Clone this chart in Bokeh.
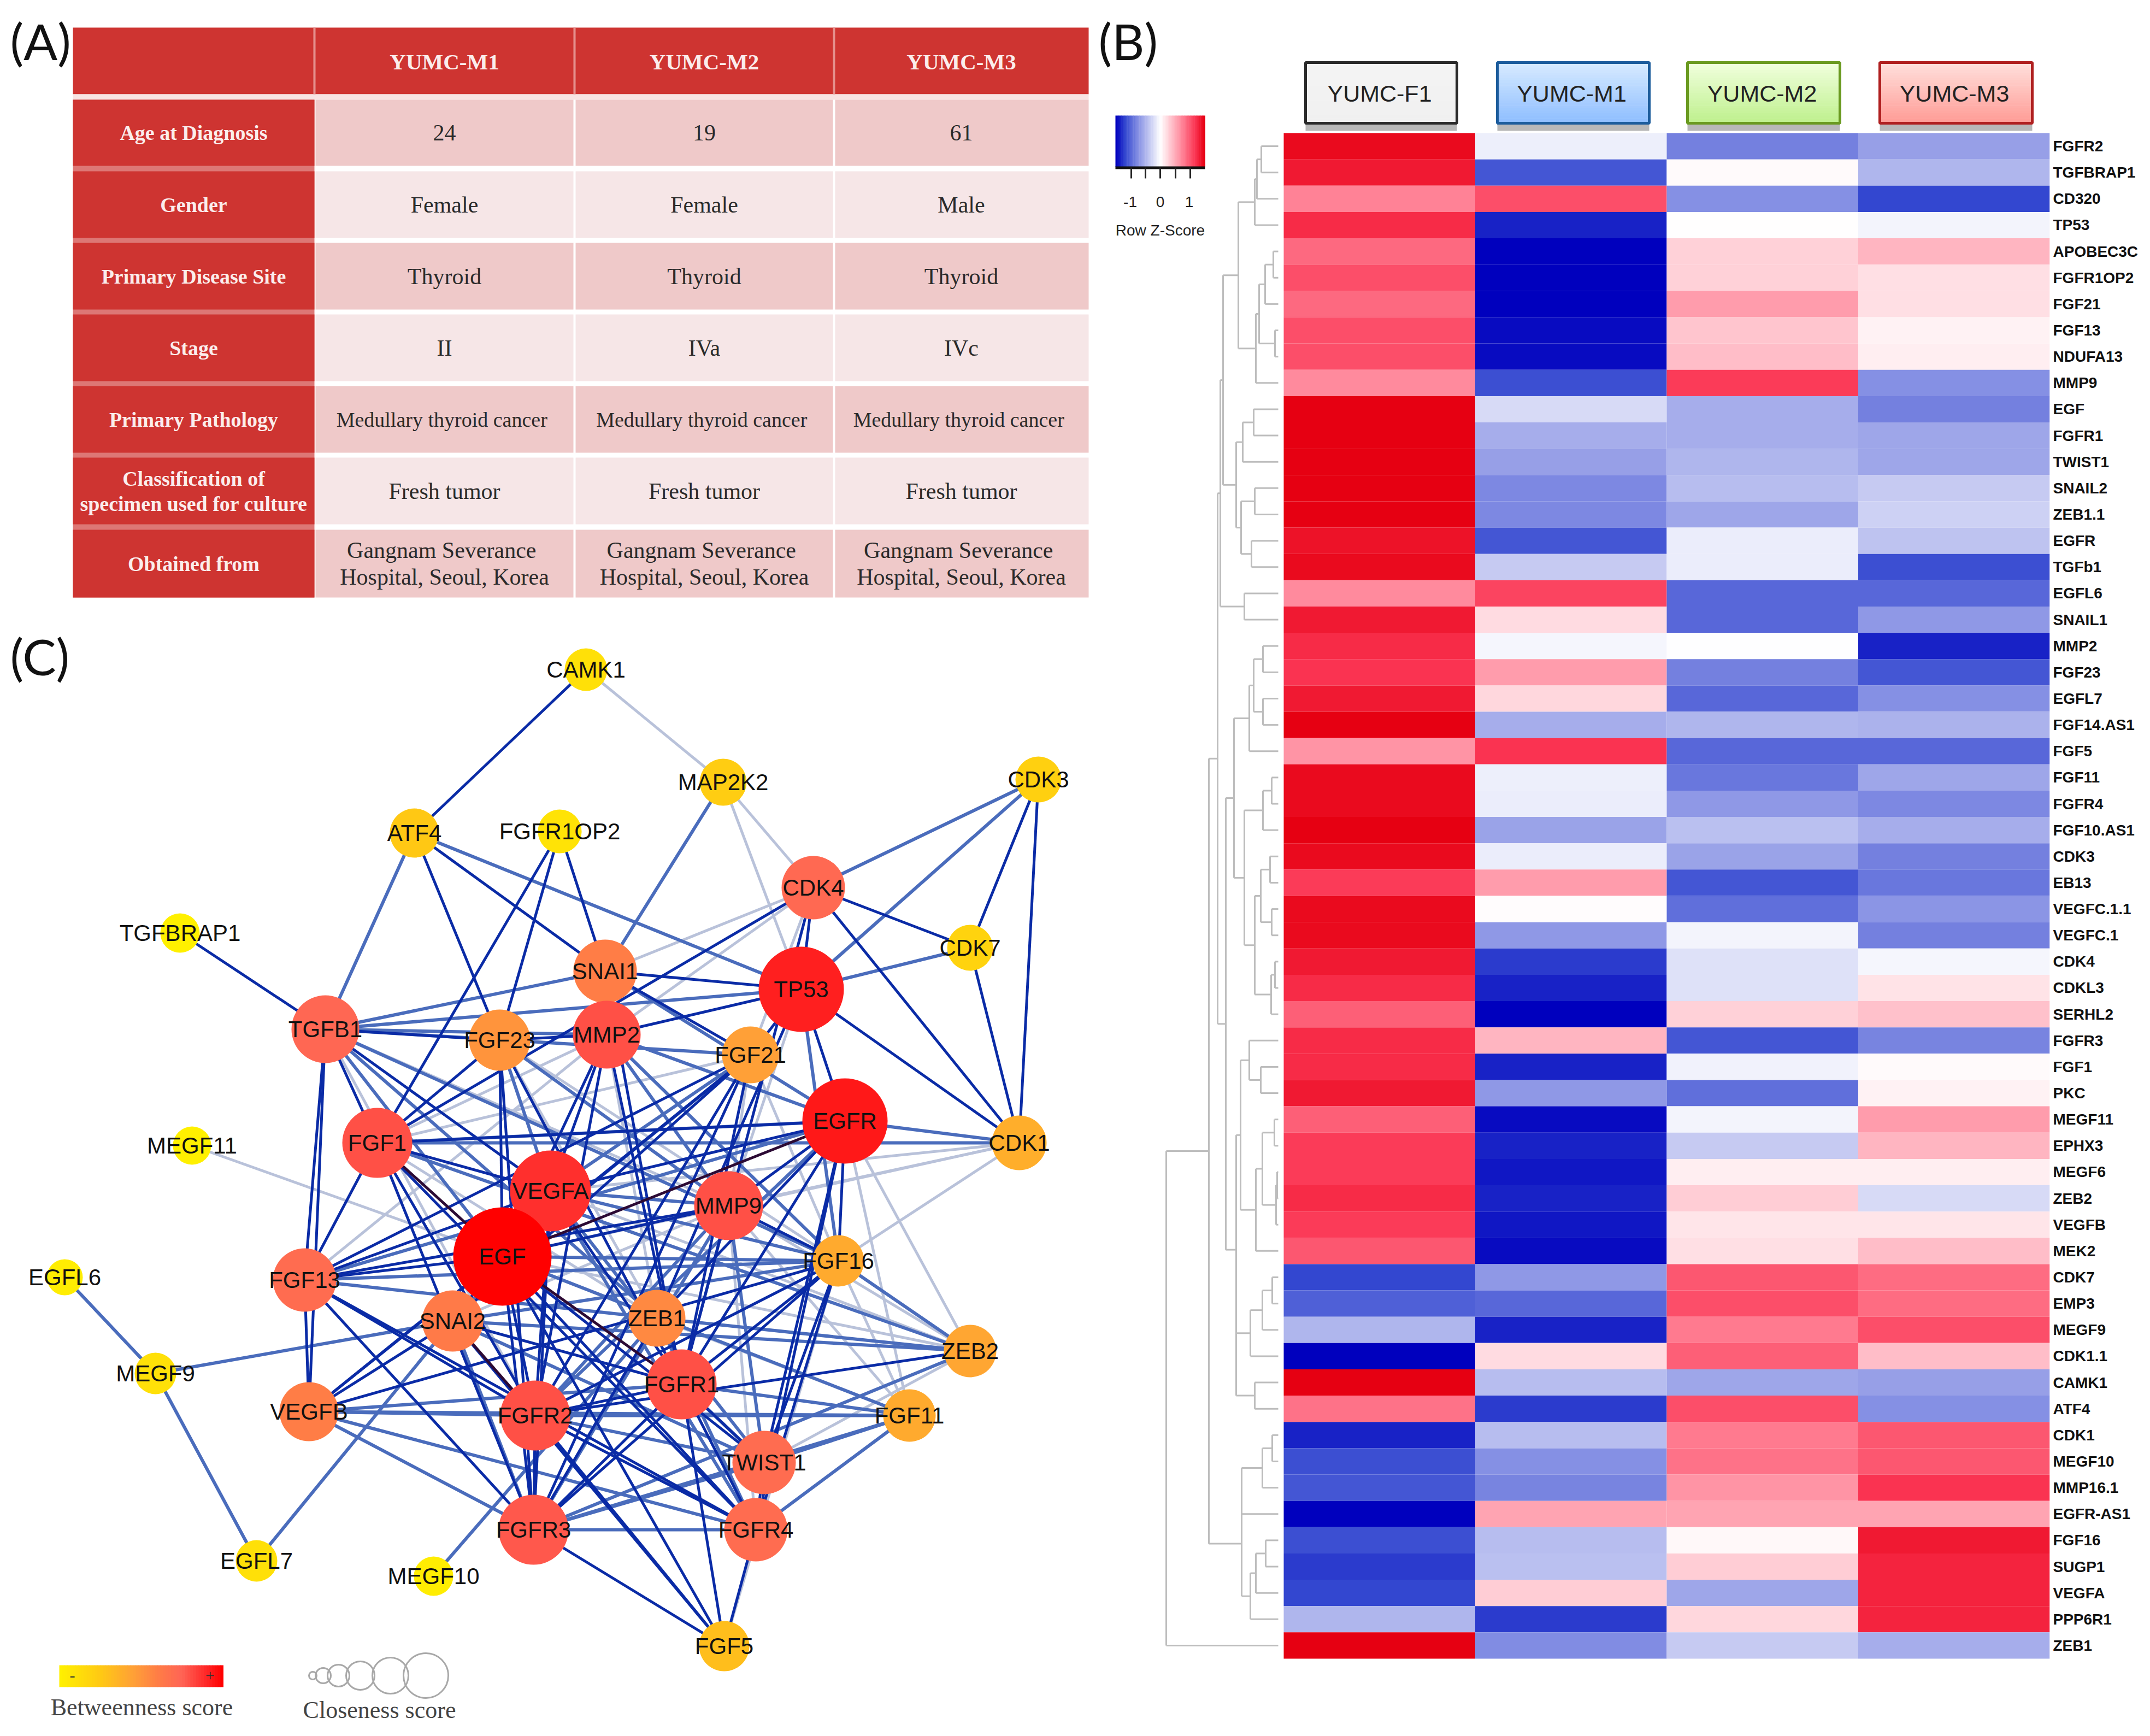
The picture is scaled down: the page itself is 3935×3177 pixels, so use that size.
import numpy as np
from bokeh.plotting import figure
from bokeh.layouts import row, column
from bokeh.models import Range1d, LinearColorMapper, FixedTicker
from bokeh.core.properties import value
from bokeh.transform import transform
from bokeh.embed import file_html
from bokeh.resources import INLINE

# ---------- DATA ----------
table_headers = ["YUMC-M1", "YUMC-M2", "YUMC-M3"]
table_rows = ["Age at Diagnosis", "Gender", "Primary Disease Site", "Stage", "Primary Pathology",
              "Classification of\nspecimen used for culture", "Obtained from"]
table_m1 = ["24", "Female", "Thyroid", "II", "Medullary  thyroid cancer", "Fresh tumor",
            "Gangnam  Severance\nHospital, Seoul, Korea"]
table_m2 = ["19", "Female", "Thyroid", "IVa", "Medullary  thyroid cancer", "Fresh tumor",
            "Gangnam  Severance\nHospital, Seoul, Korea"]
table_m3 = ["61", "Male", "Thyroid", "IVc", "Medullary  thyroid cancer", "Fresh tumor",
            "Gangnam  Severance\nHospital, Seoul, Korea"]

samples = ["YUMC-F1", "YUMC-M1", "YUMC-M2", "YUMC-M3"]
genes = ["FGFR2", "TGFBRAP1", "CD320", "TP53", "APOBEC3C", "FGFR1OP2", "FGF21", "FGF13", "NDUFA13", "MMP9",
         "EGF", "FGFR1", "TWIST1", "SNAIL2", "ZEB1.1", "EGFR", "TGFb1", "EGFL6", "SNAIL1", "MMP2",
         "FGF23", "EGFL7", "FGF14.AS1", "FGF5", "FGF11", "FGFR4", "FGF10.AS1", "CDK3", "EB13", "VEGFC.1.1",
         "VEGFC.1", "CDK4", "CDKL3", "SERHL2", "FGFR3", "FGF1", "PKC", "MEGF11", "EPHX3", "MEGF6",
         "ZEB2", "VEGFB", "MEK2", "CDK7", "EMP3", "MEGF9", "CDK1.1", "CAMK1", "ATF4", "CDK1",
         "MEGF10", "MMP16.1", "EGFR-AS1", "FGF16", "SUGP1", "VEGFA", "PPP6R1", "ZEB1"]
z_f1 = [1.45, 1.35, .75, 1.25, .9, 1.05, .9, 1.05, 1.05, .7,
        1.5, 1.5, 1.5, 1.5, 1.5, 1.4, 1.45, .7, 1.35, 1.25,
        1.2, 1.35, 1.5, .65, 1.45, 1.45, 1.5, 1.45, 1.15, 1.45,
        1.45, 1.35, 1.25, .95, 1.25, 1.25, 1.35, .95, 1.15, 1.15,
        1.25, 1.15, 1.0, -1.2, -1.05, -.5, -1.5, 1.5, .85, -1.35,
        -1.15, -1.1, -1.5, -1.15, -1.25, -1.2, -.5, 1.5]
z_m1 = [-.1, -1.1, 1.05, -1.35, -1.5, -1.5, -1.5, -1.45, -1.45, -1.15,
        -.25, -.55, -.65, -.8, -.8, -1.1, -.35, 1.1, .22, -.06,
        .6, .25, -.55, 1.2, -.1, -.12, -.62, -.12, .6, .02,
        -.7, -1.25, -1.35, -1.5, .45, -1.35, -.7, -1.45, -1.35, -1.4,
        -1.35, -1.4, -1.45, -.7, -1.0, -1.35, .22, -.45, -1.25, -.45,
        -.75, -.82, .55, -.45, -.42, .3, -1.25, -.78]
z_m2 = [-.85, .03, -.75, .01, .28, .28, .6, .35, .4, 1.15,
        -.55, -.55, -.5, -.45, -.6, -.12, -.12, -1.0, -1.0, 0,
        -.85, -1.0, -.5, -1.0, -.9, -.7, -.42, -.62, -1.1, -.95,
        -.07, -.2, -.2, .28, -1.1, -.08, -.95, -.07, -.35, .1,
        .3, .17, .2, 1.0, 1.05, .8, .95, -.6, 1.05, .8,
        .85, .65, .55, .05, .3, -.6, .25, -.35]
z_m3 = [-.65, -.5, -1.2, -.07, .45, .2, .2, .08, .1, -.75,
        -.85, -.6, -.6, -.35, -.3, -.4, -1.15, -1.0, -.7, -1.35,
        -1.1, -.75, -.52, -1.0, -.6, -.8, -.55, -.85, -.9, -.72,
        -.85, -.06, .18, .38, -.82, .04, .08, .6, .45, .1,
        -.25, .17, .4, .88, .88, 1.05, .4, -.65, -.75, 1.0,
        1.0, 1.2, .55, 1.35, 1.3, 1.3, 1.3, -.55]

node_names = ["CAMK1", "MAP2K2", "CDK3", "ATF4", "FGFR1OP2", "TGFBRAP1", "CDK4", "CDK7", "SNAI1", "TP53",
              "TGFB1", "FGF23", "MMP2", "FGF21", "EGFR", "CDK1", "MEGF11", "FGF1", "VEGFA", "MMP9",
              "EGF", "FGF16", "EGFL6", "FGF13", "SNAI2", "ZEB1", "ZEB2", "MEGF9", "VEGFB", "FGFR1",
              "FGFR2", "FGF11", "TWIST1", "FGFR3", "FGFR4", "EGFL7", "MEGF10", "FGF5"]
node_x = [1072, 1323, 1900, 758, 1024, 329, 1488, 1775, 1107, 1466,
          595, 914, 1110, 1373, 1546, 1865, 351, 690, 1007, 1333,
          919, 1534, 118, 557, 828, 1202, 1775, 284, 565, 1247,
          979, 1664, 1398, 976, 1383, 469, 793, 1325]
node_y = [1225, 1431, 1426, 1524, 1521, 1707, 1624, 1734, 1777, 1810,
          1883, 1903, 1893, 1930, 2051, 2091, 2096, 2091, 2179, 2206,
          2299, 2307, 2337, 2342, 2417, 2412, 2472, 2513, 2583, 2533,
          2590, 2590, 2676, 2799, 2799, 2856, 2884, 3012]
betweenness = [.1, .22, .2, .25, .08, 0, .72, .18, .6, .92,
               .73, .5, .8, .45, .94, .38, 0, .8, .88, .8,
               1, .4, .02, .7, .62, .55, .42, .1, .6, .8,
               .8, .4, .7, .78, .7, .1, .02, .3]
closeness_radius = [39, 43, 42, 45, 40, 36, 58, 42, 58, 78,
                    62, 56, 62, 52, 78, 50, 35, 64, 74, 63,
                    90, 47, 33, 58, 56, 52, 48, 38, 54, 64,
                    64, 48, 58, 64, 58, 38, 36, 46]

edges_pale = """CAMK1 MAP2K2;MAP2K2 CDK4;MAP2K2 TP53;CDK4 SNAI1;CDK4 MMP2;CDK4 FGF21;FGF21 MMP9;FGF1 FGF21;FGF1 MMP2;
MMP9 ZEB2;MMP9 FGF11;EGFR ZEB2;EGFR FGF11;FGF16 FGF11;ZEB1 FGF11;ZEB1 ZEB2;FGF16 FGF5;MMP9 CDK1;VEGFA CDK1;FGF16 CDK1;
EGF CDK1;FGF13 MMP9;FGF13 MMP2;TGFB1 MMP9;TGFB1 FGFR2;FGF1 ZEB1;ZEB2 TWIST1;FGF11 FGFR2;MEGF11 EGF;ZEB1 FGFR3;
EGF MMP9;EGF ZEB2;VEGFA ZEB2;MMP9 FGFR4;MMP2 ZEB1;FGF23 ZEB1;FGF21 FGF16;TP53 MMP9;FGF23 FGF16;SNAI2 MMP9"""
edges_mid = """ATF4 TGFB1;ATF4 TP53;CDK3 CDK4;CDK3 TP53;TP53 CDK7;SNAI1 TGFB1;MAP2K2 SNAI1;EGFL6 MEGF9;MEGF9 EGFL7;MEGF9 SNAI2;
EGFL7 SNAI2;MEGF10 ZEB1;TGFB1 TP53;TGFB1 MMP2;TGFB1 EGF;TGFB1 FGF16;EGFR CDK1;FGF1 EGFR;FGF13 FGF16;FGF13 EGFR;
VEGFB FGFR1;VEGFB FGF11;VEGFB FGFR2;VEGFB FGFR4;VEGFB FGFR3;FGFR3 TWIST1;FGFR3 ZEB2;FGFR3 FGF11;FGFR2 TWIST1;FGFR2 FGF11;
FGFR1 FGF11;FGFR1 TWIST1;TWIST1 FGF11;FGFR4 FGF11;FGFR3 FGFR4;ZEB1 ZEB2;SNAI2 ZEB2;MMP9 FGFR3;EGF FGF16;EGF FGF11;
EGFR FGFR2;FGF16 ZEB2;MMP9 FGFR2;MMP2 FGF16;MMP2 MMP9;FGF23 VEGFA;FGF23 MMP9;FGF21 VEGFA;VEGFA MMP9;TP53 FGF16;
TGFB1 ZEB1;TGFB1 FGF21;FGF1 ZEB2;EGF FGF21;VEGFA FGF16;VEGFA FGFR4;VEGFA TWIST1;SNAI1 EGFR;MMP2 EGFR;SNAI2 FGFR3;
FGF13 ZEB1;SNAI2 TWIST1;SNAI2 FGF16;ZEB1 FGFR4;CDK1 FGF1;MMP9 TWIST1"""
edges_dark = """CAMK1 ATF4;CDK3 CDK7;CDK3 CDK1;ATF4 FGF23;ATF4 SNAI1;FGFR1OP2 FGF1;FGFR1OP2 FGF23;FGFR1OP2 SNAI1;TGFBRAP1 TGFB1;
CDK4 CDK7;CDK4 TP53;CDK4 CDK1;CDK4 FGF1;TP53 CDK1;TP53 EGFR;TP53 FGF21;SNAI1 TP53;CDK7 CDK1;SNAI1 FGF21;SNAI1 FGFR1;
TGFB1 FGF23;TGFB1 FGF1;TGFB1 VEGFA;TGFB1 FGF13;TGFB1 VEGFB;FGF23 MMP2;FGF23 FGF1;FGF23 EGF;MMP2 TP53;MMP2 VEGFA;
MMP2 EGF;MMP2 FGFR2;MMP2 FGFR1;FGF21 EGF;FGF21 SNAI2;FGF21 FGF13;FGF21 FGFR2;EGFR FGF1;EGFR VEGFA;EGFR MMP9;
EGFR FGF16;EGFR FGFR1;EGFR TWIST1;EGFR FGFR4;FGF1 VEGFA;FGF1 FGF13;FGF1 FGFR2;FGF1 FGFR4;FGF1 FGFR3;VEGFA EGF;
VEGFA FGF13;VEGFA FGFR1;VEGFA FGFR2;VEGFA FGFR3;MMP9 FGF13;MMP9 FGF16;MMP9 FGFR1;MMP9 EGF;EGF FGF13;EGF SNAI2;
EGF VEGFB;EGF FGFR2;EGF FGFR3;EGF FGFR4;EGF TWIST1;EGF FGF5;FGF13 VEGFB;FGF13 FGFR2;FGF13 FGFR3;FGF13 FGFR4;
SNAI2 VEGFB;SNAI2 FGFR1;SNAI2 FGF5;VEGFB FGF16;FGF16 FGFR2;FGF16 FGFR1;FGF16 FGFR3;FGF16 TWIST1;FGF16 FGFR4;ZEB2 FGFR2;
FGFR1 FGFR2;FGFR1 FGFR3;FGFR1 FGFR4;FGFR1 FGF5;FGFR2 FGFR3;FGFR2 FGFR4;FGFR2 FGF5;FGFR3 FGF5;FGFR4 FGF5;TWIST1 FGFR4;
TWIST1 FGFR1;FGF21 FGFR1;FGF21 FGFR3;FGF21 VEGFB;FGF23 FGFR3;FGF23 FGFR1;ZEB1 FGFR3;ZEB1 EGFR;ZEB1 TP53;CDK4 FGFR1"""
edges_maroon = "FGF1 EGF;EGF FGFR1;EGF EGFR;SNAI2 FGFR2"

# Dendrogram as nested merges: (merge position, child, child); integers are rows
dend_a = (2296, (2300, (2308, 0, 1), 2), 3)
dend_b = (2298, (2304, (2315, (2330, 4, 5), 6), (2333, 7, 8)), 9)
dend_c = (2274, (2294, 10, 11), 12)
dend_d = (2271, (2296, 13, 14), (2290, 15, 16))
dend_e = (2233, (2238, (2266, dend_a, dend_b), (2262, dend_c, dend_d)), (2277, 17, 18))
dend_f = (2286, (2294, (2311, 19, 20), (2311, 21, 22)), 23)
dend_g = (2277, (2311, (2327, 24, 25), 26), (2296, (2307, (2324, 27, 28), (2327, 29, 30)), (2326, (2333, 31, 32), 33)))
dend_h = (2286, 34, (2307, 35, 36))
dend_i = (2298, (2310, (2332, 37, 38), (2335, (2337, 39, 40), 41)), 42)
dend_j = (2288, (2310, (2328, 43, 44), 45), 46)
dend_k = (2296, 47, 48)
dend_l = (2272, (2310, (2328, 49, 50), 51), 52)
dend_m = (2288, (2298, (2316, 53, 54), 55), 56)
dendrogram = (2134,
              (2212,
               (2228, dend_e, (2243, (2258, dend_f, dend_g), (2262, (2270, dend_h, dend_i), (2262, dend_j, dend_k)))),
               (2272, dend_l, dend_m)),
              57)

# ---------- LAYOUT CONSTANTS ----------
SPLIT = 2005
OFF = 8


def ramp(stops, n=256):
    pos = [s[0] for s in stops]
    out = []
    for t in np.linspace(0, 1, n):
        c = [int(round(np.interp(t, pos, [s[1][k] for s in stops]))) for k in range(3)]
        out.append("#%02x%02x%02x" % tuple(c))
    return out


heat_palette = ramp([(0, (0, 0, 190)), (.1, (52, 72, 208)), (.25, (135, 145, 228)), (.5, (255, 255, 255)),
                     (.75, (255, 130, 150)), (.9, (250, 50, 80)), (1, (230, 0, 18))])
node_palette = ramp([(0, (255, 240, 0)), (.25, (255, 200, 20)), (.45, (255, 160, 55)), (.6, (255, 125, 70)),
                     (.75, (255, 100, 85)), (.9, (255, 40, 40)), (1, (255, 0, 0))])
node_mapper = LinearColorMapper(palette=node_palette, low=0, high=1)


def heat_color(v):
    return heat_palette[int((v + 1.5) / 3 * 255)]


def base(xr, yr, **kw):
    p = figure(x_range=Range1d(*xr), y_range=Range1d(*yr), toolbar_location=None, output_backend="svg",
               x_axis_location=None, min_border=0, outline_line_color=None, background_fill_color="white",
               border_fill_color="white", **kw)
    p.grid.visible = False
    return p


def lines(s):
    return s.split("\n")


# ---------- PANEL A ----------
pa = base((8 - OFF, SPLIT - OFF), (1130 - OFF, 8 - OFF), y_axis_location=None, frame_width=SPLIT - 8, frame_height=1122)
col_edges = [133, 575, 1051, 1526, 1992]
row_tops = [182, 313, 444, 575, 706, 837, 969]
row_bots = [303, 435, 566, 697, 828, 959, 1093]
RED = "#CE3431"
SERIF = value("Liberation Serif")
pa.quad(left=[133], right=[1992], top=[50], bottom=[172], fill_color=RED, line_color=None)
pa.quad(left=[133], right=[1992], top=[172], bottom=[182], fill_color="#F8E4E3", line_color=None)
pa.quad(left=[133], right=[575], top=[182], bottom=[1093], fill_color="#DD7775", line_color=None)
for i in range(3):
    pa.quad(left=[col_edges[i + 1] - 2], right=[col_edges[i + 1] + 2], top=[50], bottom=[172],
            fill_color="#E5908D", line_color=None)
for i, (t, b) in enumerate(zip(row_tops, row_bots)):
    pa.quad(left=[133], right=[575], top=[t], bottom=[b], fill_color=RED, line_color=None)
    fc = "#EFC9C9" if i % 2 == 0 else "#F6E6E7"
    for j in range(1, 4):
        pa.quad(left=[col_edges[j] + 2], right=[col_edges[j + 1] - 2 if j < 3 else col_edges[j + 1]],
                top=[t], bottom=[b], fill_color=fc, line_color=None)
centers = [(col_edges[j] + col_edges[j + 1]) / 2 for j in range(4)]
for j, h in enumerate(table_headers):
    pa.text([centers[j + 1]], [112], text=[h], text_font=SERIF, text_font_style="bold", text_font_size="41px",
            text_color="#FBEDEC", text_align="center", text_baseline="middle")
for i, (rn, a, b, c) in enumerate(zip(table_rows, table_m1, table_m2, table_m3)):
    cy = (row_tops[i] + row_bots[i]) / 2
    ls = lines(rn)
    for k, l in enumerate(ls):
        pa.text([centers[0]], [cy + (k - (len(ls) - 1) / 2) * 46], text=[l], text_font=SERIF,
                text_font_style="bold", text_font_size="38px", text_color="#FBEDEC",
                text_align="center", text_baseline="middle")
    for j, s in enumerate((a, b, c)):
        ls = lines(s)
        size = "38px" if s.startswith("Medullary") else "42px"
        for k, l in enumerate(ls):
            pa.text([centers[j + 1]], [cy + (k - (len(ls) - 1) / 2) * 49], text=[l], text_font=SERIF,
                    text_font_size=size, text_color="#2A2A2A", text_align="center", text_baseline="middle")
LAB = dict(text_font=value("Lato"), text_font_size="92px", text_color="#111111", text_baseline="middle")
pa.text([18], [74], text=["(A)"], **LAB)

# ---------- PANEL C ----------
pc = base((8 - OFF, SPLIT - OFF), (3169 - OFF, 1130 - OFF), y_axis_location=None, frame_width=SPLIT - 8, frame_height=2039)
pc.text([18], [1200], text=["(C)"], **LAB)
pos = {n: (x, y) for n, x, y in zip(node_names, node_x, node_y)}


def draw_edges(spec, color, w, alpha=1.0):
    pairs = [e.strip().split() for e in spec.replace("\n", "").split(";") if e.strip()]
    pc.segment([pos[a][0] for a, b in pairs], [pos[a][1] for a, b in pairs],
               [pos[b][0] for a, b in pairs], [pos[b][1] for a, b in pairs],
               line_color=color, line_width=w, line_alpha=alpha)


draw_edges(edges_pale, "#B9C2DA", 5)
draw_edges(edges_mid, "#4A6CBC", 6)
draw_edges(edges_dark, "#0A2BA6", 5)
draw_edges(edges_maroon, "#2C0A34", 5)
src = dict(x=node_x, y=node_y, r=closeness_radius, b=betweenness, n=node_names)
pc.circle("x", "y", radius="r", source=src, fill_color=transform("b", node_mapper), line_color=None)
pc.text("x", "y", text="n", source=src, text_font=value("Liberation Sans"), text_font_size="42px",
        text_color="#111111", text_align="center", text_baseline="middle")
legend_vals = np.linspace(0, 1, 60)
edges_lx = np.linspace(108, 408, 61)
pc.quad(left=edges_lx[:-1], right=edges_lx[1:] + .5, top=[3047] * 60, bottom=[3087] * 60,
        fill_color=[node_palette[int(v * 255)] for v in legend_vals], line_color=None)
pc.text([132], [3066], text=["-"], text_font=SERIF, text_font_size="30px", text_color="#333333",
        text_align="center", text_baseline="middle")
pc.text([384], [3066], text=["+"], text_font=SERIF, text_font_size="30px", text_color="#333333",
        text_align="center", text_baseline="middle")
pc.text([259], [3124], text=["Betweenness score"], text_font=SERIF, text_font_size="44px", text_color="#444444",
        text_align="center", text_baseline="middle")
pc.text([694], [3129], text=["Closeness score"], text_font=SERIF, text_font_size="44px", text_color="#444444",
        text_align="center", text_baseline="middle")
pc.circle([572, 591, 619, 659, 714, 779], [3066] * 6, radius=[7, 14, 20, 26, 33, 41], fill_color=None,
          line_color="#A8A8A8", line_width=3)

# ---------- PANEL B ----------
ROW_H = (3035 - 243) / 58
ROW0 = 243 + ROW_H / 2


def ry(px):
    return (px - ROW0) / ROW_H


pb = base((SPLIT - OFF, 3751), (ry(3169 - OFF), ry(8 - OFF)), y_axis_location="right",
          frame_width=3751 - SPLIT + OFF, frame_height=3161)
ax = pb.yaxis[0]
ax.ticker = FixedTicker(ticks=list(range(len(genes))))
ax.major_label_overrides = {i: g for i, g in enumerate(genes)}
ax.axis_line_color = None
ax.major_tick_line_color = None
ax.minor_tick_line_color = None
ax.major_label_standoff = 0
ax.major_label_text_font = "Liberation Sans"
ax.major_label_text_font_style = "bold"
ax.major_label_text_font_size = "28px"
ax.major_label_text_color = "#111111"

HX0, CW = 2349, (3751 - 2349) / 4
for i, series in enumerate((z_f1, z_m1, z_m2, z_m3)):
    ys = np.arange(len(genes))
    pb.quad(left=[HX0 + i * CW] * len(genes), right=[HX0 + (i + 1) * CW] * len(genes), top=ys - .5, bottom=ys + .5,
            fill_color=[heat_color(v) for v in series], line_color=None)

dx0, dy0, dx1, dy1 = [], [], [], []


def walk(node):
    if isinstance(node, int):
        return 2339, float(node)
    x, a, b = node
    xa, ya = walk(a)
    xb, yb = walk(b)
    dx0.extend([x, x, x])
    dy0.extend([ya, ya, yb])
    dx1.extend([xa, x, xb])
    dy1.extend([ya, yb, yb])
    return x, (ya + yb) / 2


walk(dendrogram)
pb.segment(dx0, dy0, dx1, dy1, line_color="#BDBDBD", line_width=3)

box_x = [(2389, 2666), (2740, 3018), (3088, 3367), (3440, 3719)]
box_top = [("#F4F4F4", "#F0F0F0"), ("#D6EAFF", "#8FBEFF"), ("#F0FFDC", "#BFF08E"), ("#FFDFDB", "#FF9C96")]
box_line = ["#2A2A2A", "#1C5C9C", "#6A9A20", "#B02020"]
Y0, Y1 = 114, 225
for (l, r), (c0, c1), lc, s in zip(box_x, box_top, box_line, samples):
    pb.quad(left=[l], right=[r], top=[ry(Y1)], bottom=[ry(Y1 + 14)], fill_color="#B8B8B8", line_color=None)
    strips = ramp([(0, tuple(int(c0[k:k + 2], 16) for k in (1, 3, 5))), (1, tuple(int(c1[k:k + 2], 16) for k in (1, 3, 5)))], 24)
    sy = np.linspace(Y0, Y1, 25)
    pb.quad(left=[l] * 24, right=[r] * 24, top=[ry(v) for v in sy[:-1]], bottom=[ry(v + .5) for v in sy[1:]],
            fill_color=strips, line_color=None)
    pb.quad(left=[l], right=[r], top=[ry(Y0)], bottom=[ry(Y1)], fill_color=None, line_color=lc, line_width=5)
    pb.text([(l + r) / 2 - 3], [ry(170)], text=[s], text_font=value("Liberation Sans"), text_font_size="43px",
            text_color="#222222", text_align="center", text_baseline="middle")

key_vals = np.linspace(-1.5, 1.5, 60)
ke = np.linspace(2041, 2205, 61)
pb.quad(left=ke[:-1], right=ke[1:] + .5, top=[ry(211)] * 60, bottom=[ry(305)] * 60,
        fill_color=[heat_color(v) for v in key_vals], line_color=None)
pb.quad(left=[2041], right=[2205], top=[ry(304)], bottom=[ry(309)], fill_color="#111111", line_color=None)
tick_x = [2070, 2096, 2123, 2151, 2178]
pb.segment(tick_x, [ry(306)] * 5, tick_x, [ry(326)] * 5, line_color="#222222", line_width=3)
pb.text([2068, 2123, 2176], [ry(369)] * 3, text=["-1", "0", "1"], text_font=value("Liberation Sans"),
        text_font_size="28px", text_color="#222222", text_align="center", text_baseline="middle")
pb.text([2123], [ry(421)], text=["Row Z-Score"], text_font=value("Liberation Sans"), text_font_size="28px",
        text_color="#222222", text_align="center", text_baseline="middle")
pb.text([SPLIT + 5], [ry(74)], text=["(B)"], **LAB)

layout = row(column(pa, pc, spacing=0), pb, spacing=0)
open("out.html", "w").write(file_html(layout, INLINE))
